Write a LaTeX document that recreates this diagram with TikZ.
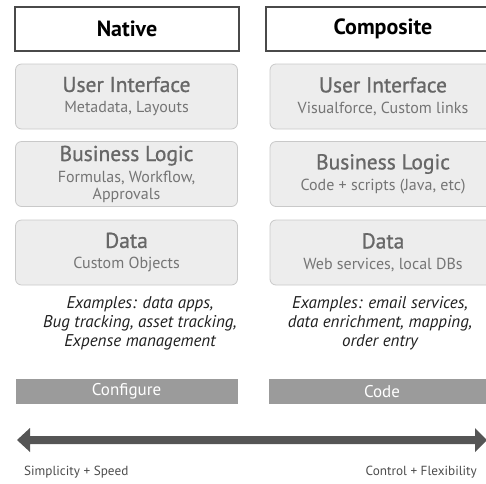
\documentclass[tikz,border=0pt]{standalone}
\usepackage{fontspec}
\setmainfont{PT Sans}
\newfontfamily\semifont[FakeBold=0.9]{PT Sans}
\usetikzlibrary{positioning}

\definecolor{headline}{HTML}{4A4A4A}
\definecolor{layerfill}{HTML}{EDEDED}
\definecolor{layerline}{HTML}{C9C9C9}
\definecolor{layertext}{HTML}{676767}
\definecolor{subtext}{HTML}{757575}
\definecolor{barfill}{HTML}{9B9B9B}
\definecolor{arrowdark}{HTML}{555555}
\definecolor{arrowlight}{HTML}{B8B8B8}

\newcommand{\lyrhead}[1]{{\semifont\fontsize{21.5}{22}\selectfont #1}}
\newcommand{\lyrsub}[1]{{\color{subtext}#1}}

\tikzset{
  header/.style={draw=headline,line width=1.2pt,minimum width=224pt,minimum height=44pt,
    inner sep=0pt,font=\bfseries\fontsize{22}{24}\selectfont},
  layer/.style={draw=layerline,fill=layerfill,rounded corners=6pt,line width=0.8pt,
    minimum width=222pt,minimum height=65pt,align=center,text=layertext,inner sep=0pt,
    font=\fontsize{16}{17}\selectfont},
  examples/.style={align=center,font=\itshape\fontsize{17}{19}\selectfont,text=black!88},
  bar/.style={fill=barfill,minimum width=222pt,minimum height=25pt,inner sep=0pt,
    text=white,font=\fontsize{17}{19}\selectfont},
  endlabel/.style={font=\fontsize{13.2}{15}\selectfont,text=black!70,inner sep=0pt}
}

\begin{document}
\begin{tikzpicture}[x=1pt,y=-1pt]
\useasboundingbox (0,0) rectangle (486,483);

% column headers
\node[header] (native) at (127,29) {Native};
\node[header,minimum width=234pt] (composite) at (383,29) {Composite};

% layers of each column
\node[layer] (nui) at (126.5,96.5) {\lyrhead{User Interface}\\[4pt]\lyrsub{Metadata, Layouts}};
\node[layer] (nbl) at (126.5,174) {\lyrhead{Business Logic}\\[4pt]\lyrsub{Formulas, Workflow,}\\\lyrsub{Approvals}};
\node[layer] (ndata) at (126.5,252.5) {\lyrhead{Data}\\[4pt]\lyrsub{Custom Objects}};

\node[layer,minimum width=226pt] (cui) at (383,96.5) {\lyrhead{User Interface}\\[4pt]\lyrsub{Visualforce, Custom links}};
\node[layer,minimum width=226pt] (cbl) at (383,174) {\lyrhead{Business Logic}\\[4pt]\lyrsub{Code + scripts (Java, etc)}};
\node[layer,minimum width=226pt] (cdata) at (383,252.5) {\lyrhead{Data}\\[4pt]\lyrsub{Web services, local DBs}};

% examples
\node[examples] (nex) at (140,323) {Examples: data apps,\\Bug tracking, asset tracking,\\Expense management};
\node[examples] (cex) at (380,323) {Examples: email services,\\data enrichment, mapping,\\order entry};

% bars
\node[bar] (configure) at (126.5,391.5) {Configure};
\node[bar,minimum width=226pt] (code) at (382,391.5) {Code};

% double arrow, dark at both ends
\coordinate (lefttip) at (17,440);
\coordinate (righttip) at (487,440);
\shade[left color=arrowdark,middle color=arrowlight,right color=arrowdark]
  (lefttip) -- ++(13,-12) -- ++(0,8) -- (475,436) -- (475,428) -- (righttip)
  -- (475,452) -- (475,444) -- (30,444) -- (30,452) -- cycle;

\node[endlabel,anchor=west] (simple) at (24,472) {Simplicity + Speed};
\node[endlabel,anchor=east] (control) at (477,472) {Control + Flexibility};
\end{tikzpicture}
\end{document}
